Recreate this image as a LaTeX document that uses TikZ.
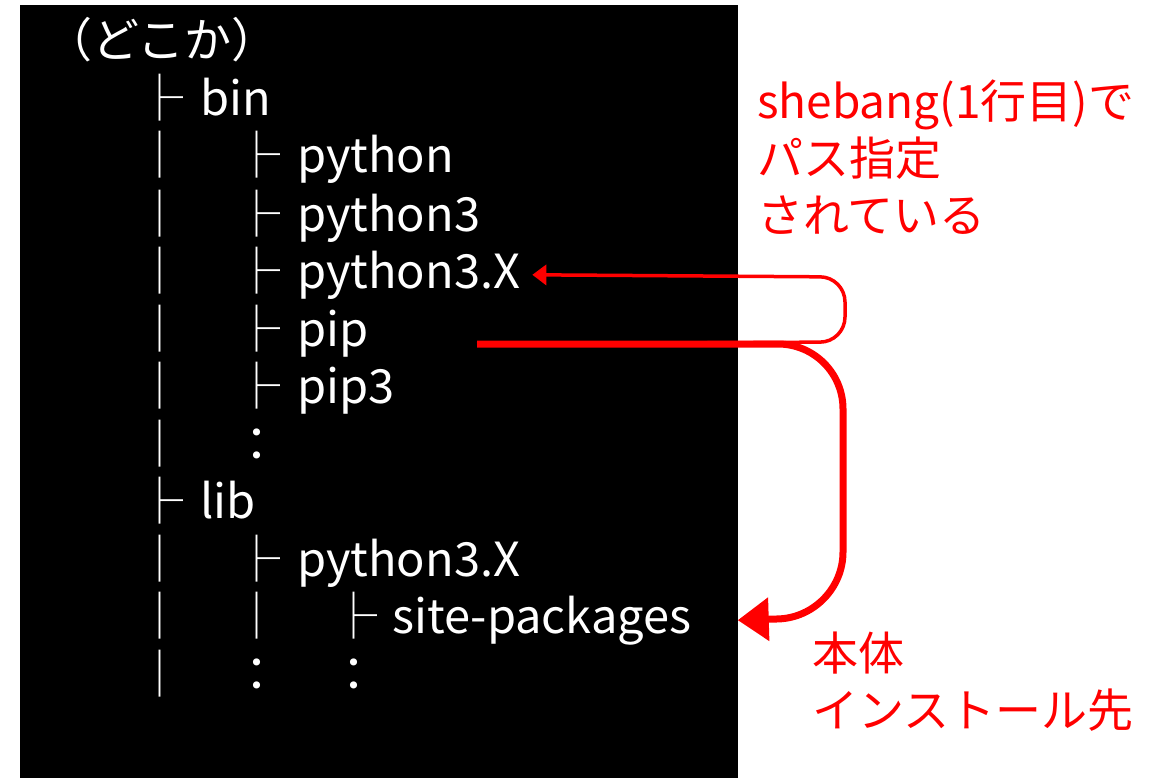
\documentclass[tikz,border=0pt]{standalone}
\usepackage{fontspec}
\setmainfont{Noto Sans CJK JP}
\usetikzlibrary{arrows.meta}

\begin{document}
\begin{tikzpicture}[x=1pt, y=-1pt,
  tree/.style={text=white, inner sep=0pt, font=\fontsize{47}{57}\selectfont},
  note/.style={text=red, inner sep=0pt, align=left, font=\fontsize{46}{57}\selectfont},
  link/.style={red, line width=3.5pt, rounded corners=25pt, -{Triangle[length=14pt,width=20pt]}},
  install/.style={red, line width=7pt, rounded corners=65pt, -{Triangle[length=31pt,width=42pt]}}]
  % Canvas and background
  \useasboundingbox (0,0) rectangle (1158,778);
  \fill[black] (20,5) rectangle (738,778);

  % Root
  \node[tree, anchor=base west] (root) at (45,58) {（どこか）};

  % First level
  \node[tree, anchor=base] at (160,116) {├};
  \node[tree, anchor=base west] (bin) at (200,116) {bin};
  \node[tree, anchor=base] at (160,518) {├};
  \node[tree, anchor=base west] (lib) at (200,518) {lib};
  \foreach \y in {173,231,288,346,403,461,576,633,691}
    \node[tree, anchor=base] at (160,\y) {│};

  % Contents of bin
  \foreach \y/\name/\label in {173/py/python, 231/pythree/python3,
      288/py3x/python3.X, 346/pip/pip, 403/pipthree/pip3} {
    \node[tree, anchor=base] at (257,\y) {├};
    \node[tree, anchor=base west] (\name) at (297,\y) {\label};
  }
  \node[tree, anchor=base] at (257,461) {：};

  % Contents of lib
  \node[tree, anchor=base] at (257,576) {├};
  \node[tree, anchor=base west] (libpy) at (297,576) {python3.X};
  \node[tree, anchor=base] at (257,633) {│};
  \node[tree, anchor=base] at (354,633) {├};
  \node[tree, anchor=base west] (site) at (392,633) {site-packages};
  \node[tree, anchor=base] at (257,691) {：};
  \node[tree, anchor=base] at (354,691) {：};

  % Notes (base = last line)
  \node[note, anchor=base west] (shebang) at (757,232) {shebang(1行目)で\\パス指定\\されている};
  \node[note, anchor=base west] (body) at (812,727) {本体\\インストール先};

  % Arrows
  \coordinate (pipout) at (477,344);
  \draw[link] (pipout) -- (845,342) -- (845,277) -- ([xshift=12pt]py3x.east);
  \draw[install] (pipout) -- (843,344) -- (843,617) -- ([xshift=46pt]site.east);
\end{tikzpicture}
\end{document}
